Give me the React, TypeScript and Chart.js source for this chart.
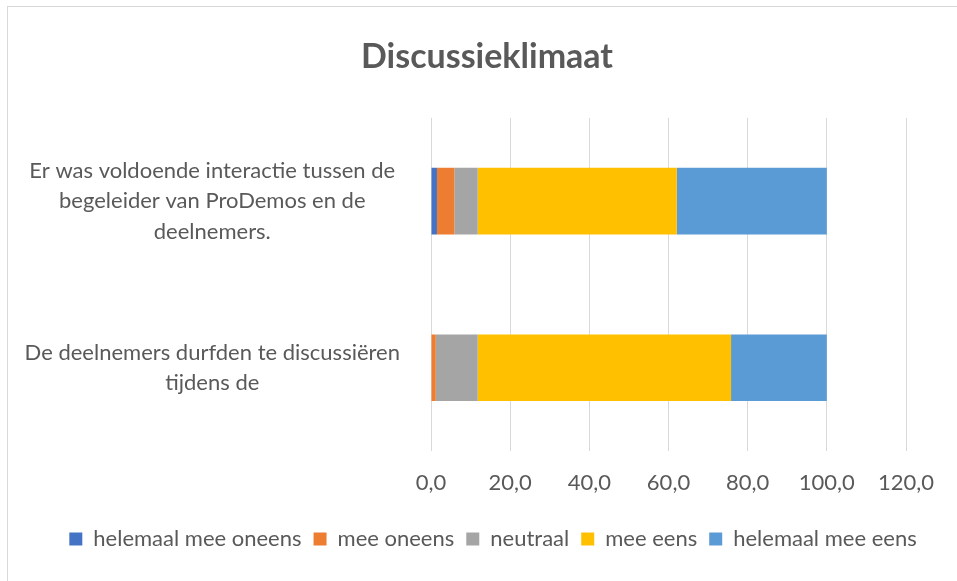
import React, { useEffect, useRef } from "react";
import { Chart, registerables } from "chart.js";

Chart.register(...registerables);

const categories: string[][] = [
  ["Er was voldoende interactie tussen de", "begeleider van ProDemos en de", "deelnemers."],
  ["De deelnemers durfden te discussiëren", "tijdens de"],
];
const seriesNames = ["helemaal mee oneens", "mee oneens", "neutraal", "mee eens", "helemaal mee eens"];
const helemaalMeeOneens = [1.5, 0];
const meeOneens = [4.4, 1.2];
const neutraal = [5.9, 10.6];
const meeEens = [50.3, 64.0];
const helemaalMeeEens = [37.9, 24.2];
const colors = ["#4472C4", "#ED7D31", "#A5A5A5", "#FFC000", "#5B9BD5"];
const xTicks = [0, 20, 40, 60, 80, 100, 120];

const FONT = "Lato, 'Open Sans', sans-serif";
const TEXT = "#595959";

const boxShift = {
  id: "boxShift",
  afterLayout(chart: any) {
    const t = chart.titleBlock;
    if (t) {
      t.left += 34;
      t.right += 34;
    }
    const l = chart.legend;
    if (l) {
      l.left += 40;
      l.right += 40;
      l.top -= 2;
      l.bottom -= 2;
    }
  },
};

export default function App() {
  const ref = useRef<HTMLCanvasElement | null>(null);
  useEffect(() => {
    document.body.style.margin = "0";
    const values = [helemaalMeeOneens, meeOneens, neutraal, meeEens, helemaalMeeEens];
    const chart = new Chart(ref.current!, {
      type: "bar",
      data: {
        labels: categories,
        datasets: seriesNames.map((n, i) => ({
          label: n,
          data: values[i],
          backgroundColor: colors[i],
          borderWidth: 0,
          barPercentage: 0.8,
          categoryPercentage: 0.5,
        })),
      },
      plugins: [boxShift],
      options: {
        indexAxis: "y",
        responsive: false,
        animation: false,
        layout: { padding: { top: 8, left: 0, right: 51, bottom: 19 } },
        plugins: {
          title: {
            display: true,
            text: "Discussieklimaat",
            color: TEXT,
            font: { family: FONT, size: 34, weight: "bold", lineHeight: 1.2 },
            padding: { top: 29, bottom: 40 },
          },
          legend: {
            position: "bottom",
            labels: {
              color: TEXT,
              font: { family: FONT, size: 22 },
              boxWidth: 13,
              boxHeight: 13,
              padding: 12,
            },
          },
          tooltip: { enabled: false },
        },
        scales: {
          x: {
            stacked: true,
            min: 0,
            max: 120,
            afterBuildTicks: (s: any) => {
              s.ticks = xTicks.map((v) => ({ value: v }));
            },
            ticks: {
              color: TEXT,
              font: { family: FONT, size: 22, lineHeight: 1.2 },
              padding: 19,
              callback: (v: any) => Number(v).toFixed(1).replace(".", ","),
            },
            grid: { color: "#d9d9d9", lineWidth: 1, drawTicks: false },
            border: { display: false },
            afterFit: (s: any) => {
              s.height = 67;
            },
          },
          y: {
            stacked: true,
            ticks: {
              color: TEXT,
              font: { family: FONT, size: 22, lineHeight: 1.39 },
              crossAlign: "center",
              padding: 31,
            },
            grid: { display: false, drawTicks: false },
            border: { display: false },
            afterFit: (s: any) => {
              s.width = 431;
            },
          },
        },
      },
    } as any);
    return () => chart.destroy();
  }, []);
  return (
    <div style={{ position: "relative", width: 957, height: 581, background: "#fff" }}>
      <div
        style={{
          position: "absolute",
          left: 7,
          top: 6,
          width: 960,
          height: 600,
          borderLeft: "1px solid #d9d9d9",
          borderTop: "1px solid #d9d9d9",
          boxSizing: "border-box",
        }}
      />
      <canvas ref={ref} width={957} height={581} style={{ position: "absolute", left: 0, top: 0 }} />
    </div>
  );
}
